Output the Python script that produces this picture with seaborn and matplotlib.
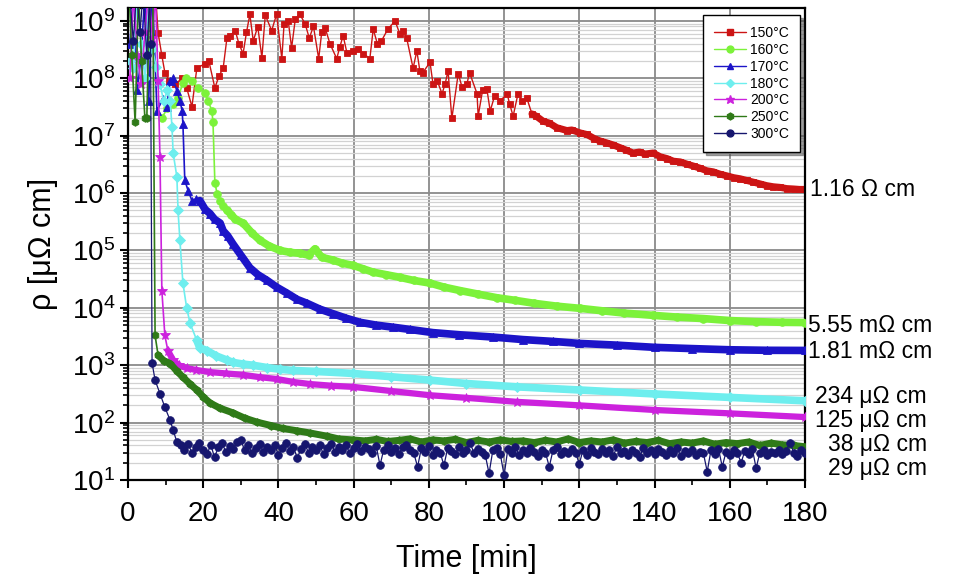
import matplotlib
matplotlib.use("Agg")
import numpy as np
import pandas as pd
import matplotlib.pyplot as plt
import seaborn as sns
from matplotlib.lines import Line2D
from matplotlib.ticker import LogLocator, MultipleLocator, NullFormatter, LogFormatterSciNotation

# ---------------- data (time in min, resistivity in µΩ cm) ----------------
series_labels = ['150°C', '160°C', '170°C', '180°C', '200°C', '250°C', '300°C']

t_150 = [7, 7.5, 8, 9, 9.8, 11, 12.5, 14.4, 15.6, 17, 18.3, 20.5, 21.5, 23.1, 24.2, 25.3, 26.3,
         27.1, 28.5, 29.5, 30.6, 31.5, 32.4, 33.3, 34.5, 35.6, 36.5, 38.2, 39.5, 40.9, 41.5, 42.6,
         43.5, 44.5, 45.7, 47.1, 48.2, 49.3, 50.7, 51.5, 52.4, 53.7, 55.5, 56.3, 57.2, 58.2, 59.9,
         61.2, 62.6, 64.3, 65.2, 66.3, 67.4, 69.1, 71, 72.3, 73.2, 74.1, 75.8, 76.8, 77.6, 78.4,
         80.3, 81.1, 82.2, 83.5, 84.3, 85.1, 86.1, 87.8, 88.8, 90.1, 90.8, 92.8, 93.1, 94.3, 95.4,
         96.3, 97.5, 98.9, 100.8, 101.5, 102.4, 103.7, 104.8, 106, 107.4, 108.5, 110.3, 112, 114,
         116.7, 118, 120.2, 122, 124, 125.5, 127, 129, 130.8, 132.5, 134.3, 136, 137.5, 139.6,
         141.5, 143.3, 145, 146.8, 148.6, 150.4, 152.2, 153.9, 155.6, 157.4, 159.2, 161, 162.7,
         164.5, 166.3, 168, 169.8, 171.6, 173.3, 175.1, 177, 178.5, 180]
rho_150 = [4.0e9, 2.0e9, 6.2e8, 2.5e8, 1.26e8, 9.1e7, 7.9e7, 1.0e8, 6.8e7, 3.2e7, 1.5e8, 1.8e8,
           2.0e8, 6.8e7, 1.1e8, 1.5e8, 5.0e8, 5.5e8, 6.8e8, 4.0e8, 2.7e8, 6.3e8, 1.3e9, 4.5e8,
           7.9e8, 2.3e8, 1.26e9, 6.8e8, 1.3e9, 2.2e8, 8.9e8, 1.0e9, 3.4e8, 1.1e9, 1.3e9, 8.9e8,
           5.0e8, 8.1e8, 2.2e8, 6.3e8, 7.6e8, 4.0e8, 2.2e8, 3.5e8, 5.5e8, 2.8e8, 3.0e8, 3.3e8,
           2.7e8, 2.2e8, 7.2e8, 4.0e8, 4.5e8, 7.2e8, 1.0e9, 5.9e8, 6.8e8, 5.0e8, 1.5e8, 3.0e8,
           1.35e8, 1.26e8, 1.9e8, 7.9e7, 9.1e7, 5.4e7, 7.9e7, 1.35e8, 2.0e7, 1.2e8, 7.1e7, 7.9e7,
           1.26e8, 5.4e7, 2.2e7, 6.3e7, 6.6e7, 2.7e7, 5.0e7, 4.0e7, 5.4e7, 3.5e7, 2.2e7, 5.4e7,
           4.0e7, 4.6e7, 2.4e7, 2.2e7, 1.8e7, 1.66e7, 1.38e7, 1.23e7, 1.26e7, 1.12e7, 1.05e7,
           8.9e6, 8.1e6, 7.6e6, 6.9e6, 6.2e6, 5.6e6, 5.0e6, 5.2e6, 4.8e6, 5.0e6, 4.3e6, 4.0e6,
           3.6e6, 3.5e6, 3.2e6, 2.95e6, 2.7e6, 2.45e6, 2.35e6, 2.14e6, 2.0e6, 1.86e6, 1.78e6,
           1.66e6, 1.55e6, 1.45e6, 1.35e6, 1.29e6, 1.26e6, 1.2e6, 1.18e6, 1.16e6, 1.16e6]

t_160 = [9, 10.4, 12, 13.3, 14.6, 15.5, 17, 18.6, 20.5, 21.3, 22.3, 22.6, 23.1, 23.7, 24.5, 25.3,
         26.3, 27.5, 28.5, 30.6, 33, 35.1, 37.5, 40.4, 43, 45.7, 48, 49.7, 51.5, 54.5, 57, 59.8,
         62.5, 65.1, 68.5, 72.3, 76, 80.3, 84, 88.3, 93, 98.1, 103, 108, 114, 120.2, 126, 132,
         139.6, 146, 153, 160.1, 167, 174, 180]
rho_160 = [2.0e7, 3.0e7, 3.6e7, 4.6e7, 8.3e7, 1.0e8, 9.1e7, 6.8e7, 5.6e7, 4.1e7, 2.7e7, 1.7e7,
           1.5e6, 9.8e5, 7.4e5, 6.0e5, 5.0e5, 4.2e5, 3.5e5, 3.0e5, 2.0e5, 1.5e5, 1.2e5, 1.0e5,
           9.3e4, 8.9e4, 8.3e4, 1.07e5, 7.6e4, 6.8e4, 6.0e4, 5.5e4, 4.8e4, 4.2e4, 3.8e4, 3.4e4,
           3.0e4, 2.7e4, 2.3e4, 2.0e4, 1.74e4, 1.5e4, 1.35e4, 1.2e4, 1.07e4, 9.8e3, 8.9e3, 8.1e3,
           7.4e3, 6.9e3, 6.5e3, 6.0e3, 5.75e3, 5.6e3, 5.55e3]

t_170 = [0.5, 1.5, 2.5, 3.5, 4.5, 5.5, 6.5, 7.7, 9.3, 10.3, 11.2, 12, 13, 13.8, 14.4, 14.6, 15.1,
         16, 17, 18, 19.1, 20.5, 21.8, 23, 24.5, 25.3, 26.5, 27.9, 30, 32.4, 34.5, 37, 39.5, 42.3,
         45, 47.6, 51, 54.5, 58, 61.7, 66, 70.5, 75, 81.1, 88, 97, 105, 113, 120, 130, 140, 150,
         160, 170, 180]
rho_170 = [4.0e8, 3.2e9, 6.3e7, 2.5e8, 3.2e9, 4.0e7, 3.2e9, 2.7e7, 4.4e7, 3.2e7, 9.1e7, 1.0e8,
           6.0e7, 4.1e7, 2.7e7, 1.6e7, 1.66e6, 1.1e6, 7.4e5, 7.9e5, 7.4e5, 5.2e5, 4.4e5, 3.5e5,
           3.0e5, 2.2e5, 1.8e5, 1.3e5, 8.3e4, 5.0e4, 3.8e4, 3.0e4, 2.3e4, 1.8e4, 1.4e4, 1.2e4,
           9.5e3, 7.9e3, 6.6e3, 5.6e3, 5.0e3, 4.6e3, 4.2e3, 3.7e3, 3.4e3, 3.1e3, 2.8e3, 2.6e3,
           2.4e3, 2.24e3, 2.05e3, 1.95e3, 1.86e3, 1.82e3, 1.81e3]

t_180 = [0.5, 1.4, 2.5, 3.5, 4.5, 5.5, 6.5, 7.5, 8.5, 9.5, 10.5, 11.2, 11.7, 12, 13, 13.3, 13.8,
         14.6, 15.6, 16.5, 18.3, 19.1, 21, 23.5, 26.3, 27.9, 30.5, 33.2, 37, 40.4, 43.9, 50, 59.8,
         70, 80.3, 90, 103.4, 120.2, 140, 160, 180]
rho_180 = [2.0e8, 1.5e8, 3.2e9, 4.0e8, 1.0e8, 3.2e9, 3.2e8, 1.6e8, 7.9e7, 4.0e7, 6.3e7, 4.1e7,
           1.4e7, 5.0e6, 1.9e6, 5.0e5, 1.5e5, 2.7e4, 1.0e4, 5.4e3, 2.7e3, 2.0e3, 1.8e3, 1.45e3,
           1.23e3, 1.12e3, 1.05e3, 1.0e3, 910, 850, 810, 780, 720, 630, 550, 480, 420, 370, 316,
           275, 240]

t_200 = [0.5, 1.5, 2.5, 3.5, 4.5, 5.5, 6.5, 7.3, 8, 8.5, 9, 9.8, 10.6, 12, 13.5, 15.6, 18, 21.8,
         26, 30.6, 35, 39.6, 44, 48.4, 54, 59.8, 70, 80.3, 90, 103.4, 120, 140, 160, 180]
rho_200 = [1.0e8, 3.2e9, 2.5e8, 7.9e7, 6.3e8, 3.2e9, 5.0e8, 3.2e9, 9.1e7, 4.2e6, 2.0e4, 3.3e3,
           1.8e3, 1.23e3, 1.0e3, 890, 830, 760, 720, 680, 620, 575, 510, 470, 440, 420, 355, 300,
           270, 230, 200, 166, 145, 125]

t_250 = [0.3, 1.0, 1.9, 2.8, 3.6, 4.5, 5.0, 5.8, 6.6, 7.2, 8, 9.5, 11.2, 13, 14.6, 16.5, 18.3, 20,
         21.8, 24.5, 27.9, 31, 34.3, 38, 41.2, 45, 48.4, 52.9, 56, 59.8, 63, 66, 69, 72, 75, 78,
         81, 84, 87, 90, 93, 96, 99, 102, 105, 108, 111, 114, 117, 120, 123, 126, 129, 132, 135,
         138, 141, 144, 147, 150, 153, 156, 159, 162, 165, 168, 171, 174, 177, 180]
rho_250 = [3.2e9, 2.5e8, 1.7e7, 3.2e9, 2.0e8, 2.0e7, 2.0e7, 3.2e9, 3.2e9, 3.3e3, 1.5e3, 1.2e3,
           1.07e3, 790, 620, 470, 370, 280, 220, 178, 148, 120, 102, 89, 79, 72, 66, 58, 52, 50,
           48, 51, 47, 49, 52, 46, 50, 48, 51, 45, 49, 46, 50, 47, 48, 45, 49, 46, 52, 45, 48, 46,
           50, 44, 47, 45, 49, 43, 46, 44, 48, 42, 45, 43, 46, 40, 44, 41, 40, 38]

t_300_head = [0.4, 1.4, 2.3, 3.2, 4.0, 5.0, 5.8, 6.0, 6.4, 7.2, 8.5, 9.8, 11.2, 12, 13]
rho_300_head = [3.2e9, 4.5e8, 3.2e9, 6.3e8, 3.2e9, 2.5e8, 3.2e9, 4.0e8, 1.1e3, 550, 320, 186,
                110, 74, 46]
t_300_tail = list(range(14, 181))
rho_300_tail = [40, 34, 42, 30, 38, 45, 33, 28, 41, 25,
                37, 44, 31, 39, 35, 46, 50, 33, 40, 29,
                36, 43, 31, 38, 34, 41, 27, 36, 44, 32,
                38, 24, 35, 42, 30, 37, 33, 40, 28, 36,
                43, 31, 37, 34, 40, 29, 36, 42, 32, 38,
                35, 30, 39, 18, 34, 41, 31, 36, 28, 38,
                41, 33, 29, 17, 36, 31, 39, 27, 34, 30,
                18, 36, 32, 28, 38, 30, 34, 44, 29, 35,
                31, 27, 13, 33, 36, 28, 12, 35, 30, 38,
                27, 33, 29, 36, 31, 26, 34, 30, 17, 33,
                37, 28, 32, 29, 35, 30, 19, 34, 27, 36,
                31, 28, 35, 30, 33, 26, 38, 29, 32, 27,
                34, 30, 25, 36, 29, 33, 28, 35, 31, 27,
                33, 29, 36, 26, 32, 30, 34, 27, 31, 29,
                14, 33, 28, 35, 17, 31, 27, 34, 30, 20,
                32, 28, 35, 16, 30, 33, 27, 31, 29, 34,
                28, 32, 45, 30, 26, 33, 29]
t_300 = t_300_head + t_300_tail
rho_300 = rho_300_head + rho_300_tail

end_labels = ['1.16 Ω cm', '5.55 mΩ cm', '1.81 mΩ cm', '234 μΩ cm', '125 μΩ cm', '38 μΩ cm',
              '29 μΩ cm']

# ---------------- styling ----------------
colors = ['#cc1414', '#7cf23a', '#1c14c8', '#6eeeee', '#cc22dd', '#2f7a18', '#16166e']
markers = ['s', 'o', '^', 'D', '*', 'h', 'o']
msizes = [5, 5.5, 5.5, 5, 7, 5.5, 5.5]
thin_lw = [1.0, 1.2, 1.2, 1.2, 1.2, 1.2, 0.9]
band_from = [107, 26, 19, 17, 10.6, 8, None]   # time after which curve is a dense band
band_lw = [5.0, 5.5, 5.5, 5.5, 4.5, 5.0, None]
# annotation layout (figure pixels)
lab_pos = [(810, 190, 'left'), (808, 326, 'left'), (808, 352, 'left'), (927, 396, 'right'),
           (927, 420, 'right'), (927, 445, 'right'), (927, 469, 'right')]

W, H = 957, 580
sns.set_theme(style='white')
plt.rcParams['font.family'] = ['Liberation Sans', 'DejaVu Sans']
plt.rcParams['mathtext.fontset'] = 'custom'
plt.rcParams['mathtext.rm'] = 'Liberation Sans'
plt.rcParams['mathtext.it'] = 'Liberation Sans:italic'
plt.rcParams['mathtext.default'] = 'regular'
plt.rcParams['text.color'] = 'black'
plt.rcParams['axes.labelcolor'] = 'black'
plt.rcParams['xtick.color'] = 'black'
plt.rcParams['ytick.color'] = 'black'

fig = plt.figure(figsize=(W / 100, H / 100), dpi=100)
ax = fig.add_axes([128 / W, 1 - 480 / H, (805 - 128) / W, (480 - 8) / H])

all_t = [t_150, t_160, t_170, t_180, t_200, t_250, t_300]
all_rho = [rho_150, rho_160, rho_170, rho_180, rho_200, rho_250, rho_300]

for i, lab in enumerate(series_labels):
    df = pd.DataFrame({'t': all_t[i], 'rho': all_rho[i]})
    if band_from[i] is not None:
        band = df[df['t'] >= band_from[i]]
        sns.lineplot(data=band, x='t', y='rho', ax=ax, color=colors[i], lw=band_lw[i],
                     sort=False, estimator=None, legend=False, zorder=2 + i)
    sns.lineplot(data=df, x='t', y='rho', ax=ax, color=colors[i], lw=thin_lw[i],
                 marker=markers[i], markersize=msizes[i], markeredgewidth=0.6,
                 markeredgecolor=colors[i], sort=False, estimator=None, legend=False,
                 zorder=2.5 + i)

ax.set_yscale('log')
ax.set_xlim(0, 180)
ax.set_ylim(10, 1.68e9)
ax.xaxis.set_major_locator(MultipleLocator(20))
ax.xaxis.set_minor_locator(MultipleLocator(10))
ax.yaxis.set_major_locator(LogLocator(base=10, numticks=20))
ax.yaxis.set_minor_locator(LogLocator(base=10, subs=np.arange(2, 10), numticks=20))
ax.yaxis.set_major_formatter(LogFormatterSciNotation())
ax.yaxis.set_minor_formatter(NullFormatter())

ax.grid(which='major', axis='both', color='#8a8a8a', lw=1.3, zorder=0)
ax.grid(which='minor', axis='y', color='#d2d2d2', lw=0.9, zorder=0)
ax.set_axisbelow(True)

for s in ax.spines.values():
    s.set_color('black')
    s.set_linewidth(1.6)
ax.tick_params(axis='both', which='major', direction='out', length=6, width=1.5,
               labelsize=20, color='black', labelcolor='black')
ax.tick_params(axis='both', which='minor', direction='out', length=3.5, width=1.2,
               color='black')
ax.tick_params(axis='x', which='major', pad=9)
ax.tick_params(axis='y', which='major', pad=3)
ax.tick_params(left=True, bottom=True, which='both')

ax.set_xlabel('Time [min]', fontsize=22, labelpad=12, color='black')
ax.set_ylabel('ρ [μΩ cm]', fontsize=22, labelpad=10, color='black')

handles = [Line2D([0], [0], color=colors[i], lw=1.0, marker=markers[i],
                  markersize=msizes[i] * 0.9, markeredgecolor=colors[i])
           for i in range(len(series_labels))]
leg = ax.legend(handles, series_labels, loc='upper right', bbox_to_anchor=(0.993, 0.985),
                borderaxespad=0, fontsize=10, frameon=True, fancybox=False, shadow=True,
                framealpha=1, edgecolor='black', handlelength=2.3, labelspacing=0.2,
                borderpad=0.8, handletextpad=0.3)
leg.get_frame().set_linewidth(1.0)
leg.set_zorder(20)

for txt, (px, py, ha) in zip(end_labels, lab_pos):
    fig.text(px / W, 1 - py / H, txt, ha=ha, va='center', fontsize=16.5, color='black')

fig.savefig('out.png', dpi=100)
